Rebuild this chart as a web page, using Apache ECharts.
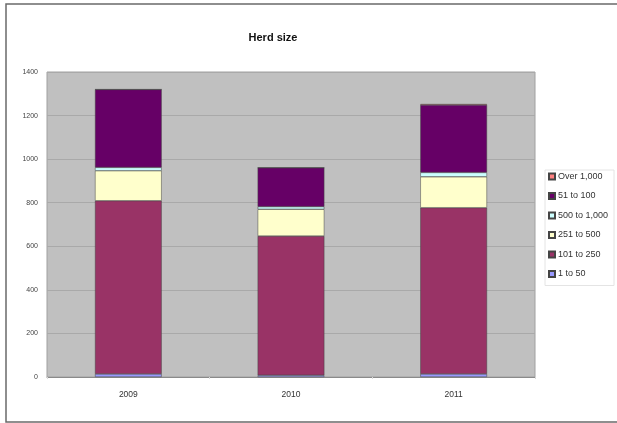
<!DOCTYPE html>
<html>
<head>
<meta charset="utf-8">
<title>Herd size</title>
<script src="https://cdn.jsdelivr.net/npm/echarts@6/dist/echarts.min.js"></script>
<style>
  html, body { margin: 0; padding: 0; background: #ffffff; }
  #chart { width: 617px; height: 423px; }
</style>
</head>
<body>
<div id="chart"></div>
<script>
// Years on the category axis
const years = ['2009', '2010', '2011'];

// Number of herds in each size band, per year (bottom of stack first)
const band1to50 = [14, 8, 14];
const band101to250 = [795, 639, 763];
const band251to500 = [138, 123, 142];
const band500to1000 = [15, 12, 20];
const band51to100 = [358, 179, 310];
const bandOver1000 = [0, 0, 4];

// Value axis ticks
const yTicks = [0, 200, 400, 600, 800, 1000, 1200, 1400];

const seriesDefs = [
  { name: '1 to 50', data: band1to50, color: '#9999ff' },
  { name: '101 to 250', data: band101to250, color: '#993366' },
  { name: '251 to 500', data: band251to500, color: '#ffffcc' },
  { name: '500 to 1,000', data: band500to1000, color: '#ccffff' },
  { name: '51 to 100', data: band51to100, color: '#660066' },
  { name: 'Over 1,000', data: bandOver1000, color: '#ff8080' }
];

const chart = echarts.init(document.getElementById('chart'), null, { renderer: 'canvas' });

const font = 'Liberation Sans, Arial, sans-serif';

chart.setOption({
  animation: false,
  backgroundColor: '#ffffff',
  title: {
    text: 'Herd size',
    left: 268,
    top: 27,
    textAlign: 'center',
    textStyle: { fontFamily: font, fontSize: 11, fontWeight: 'bold', color: '#111' }
  },
  graphic: [
    {
      type: 'rect',
      shape: { x: 6, y: 4, width: 620, height: 418 },
      style: { fill: null, stroke: '#6a6a6a', lineWidth: 1.5 },
      silent: true,
      z: -10
    }
  ],
  legend: {
    orient: 'vertical',
    left: 545,
    top: 170,
    width: 67,
    padding: [2, 6, 7, 3],
    itemGap: 10.5,
    itemWidth: 6,
    itemHeight: 6,
    icon: 'rect',
    backgroundColor: '#ffffff',
    borderColor: '#e4e4e4',
    borderWidth: 1,
    textStyle: { fontFamily: font, fontSize: 9, color: '#333', padding: [0, 0, 0, -2] },
    data: seriesDefs.map(s => s.name).reverse()
  },
  grid: {
    left: 47,
    right: 82,
    top: 72,
    bottom: 46,
    show: true,
    backgroundColor: '#c0c0c0',
    borderColor: '#a0a0a0',
    borderWidth: 1
  },
  xAxis: {
    type: 'category',
    data: years,
    axisLine: { lineStyle: { color: '#8a8a8a', width: 1 } },
    axisTick: { show: true, length: 2, lineStyle: { color: '#d8d8d8' } },
    axisLabel: { fontFamily: font, fontSize: 8.5, color: '#333', margin: 13 }
  },
  yAxis: {
    type: 'value',
    min: yTicks[0],
    max: yTicks[yTicks.length - 1],
    interval: yTicks[1] - yTicks[0],
    axisLine: { show: false },
    axisTick: { show: false },
    splitLine: { lineStyle: { color: '#a9a9a9', width: 1 } },
    axisLabel: {
      fontFamily: font,
      fontSize: 7,
      color: '#444',
      margin: 9,
      formatter: v => String(v)
    }
  },
  series: seriesDefs.map(s => ({
    name: s.name,
    type: 'bar',
    stack: 'herds',
    barWidth: '41%',
    data: s.data,
    itemStyle: { color: s.color, borderColor: '#444', borderWidth: 0.5 },
    emphasis: { disabled: true }
  }))
});
</script>
</body>
</html>
